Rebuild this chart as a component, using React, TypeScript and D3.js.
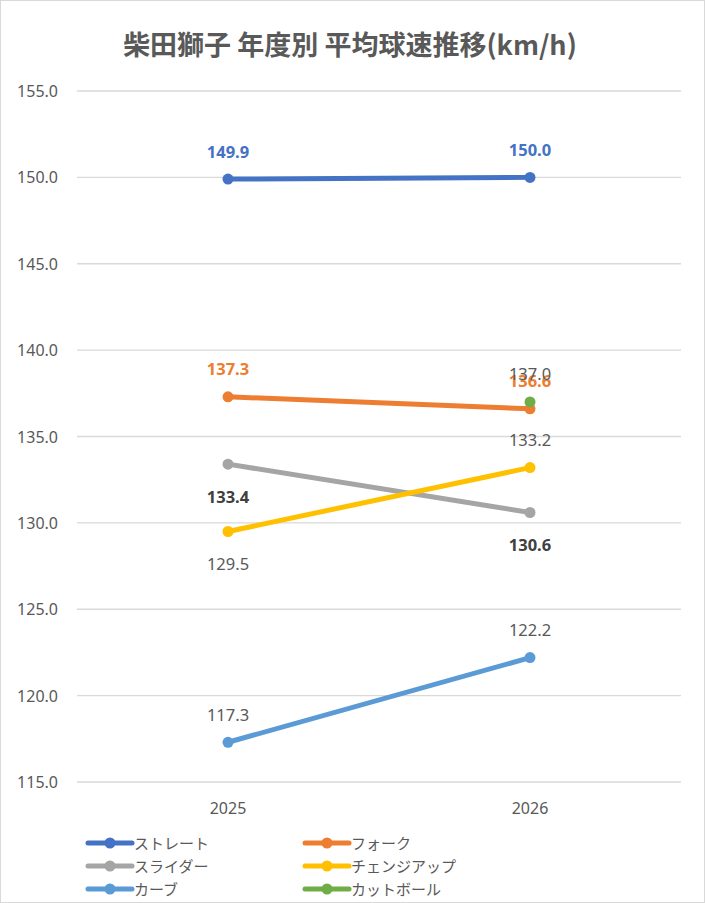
import React, { useRef, useEffect } from 'react';
import * as d3 from 'd3';

const years = ['2025', '2026'];
const pitchNames = ['ストレート', 'フォーク', 'スライダー', 'チェンジアップ', 'カーブ', 'カットボール'];
const straight = [149.9, 150.0];
const fork = [137.3, 136.6];
const slider = [133.4, 130.6];
const changeup = [129.5, 133.2];
const curve = [117.3, 122.2];
const cutter = [null, 137.0];
const yTicks = [115, 120, 125, 130, 135, 140, 145, 150, 155];

const colors = ['#4472C4', '#ED7D31', '#A5A5A5', '#FFC000', '#5B9BD5', '#70AD47'];
// label placement per series & point: 'above' | 'below', bold, color
const labelStyle = [
  { pos: ['above', 'above'], bold: true, color: '#4472C4' },
  { pos: ['above', 'above'], bold: true, color: '#ED7D31' },
  { pos: ['below', 'below'], bold: true, color: '#404040' },
  { pos: ['below', 'above'], bold: false, color: '#595959' },
  { pos: ['above', 'above'], bold: false, color: '#595959' },
  { pos: ['above', 'above'], bold: false, color: '#595959' },
];

const width = 705;
const height = 903;
const font = '"Noto Sans", "Noto Sans CJK JP", sans-serif';

export default function App() {
  const svgRef = useRef<SVGSVGElement>(null);

  useEffect(() => {
    if (!svgRef.current) return;
    const svg = d3.select(svgRef.current);
    svg.selectAll('*').remove();

    const series = [straight, fork, slider, changeup, curve, cutter];
    const plot = { left: 77, right: 681, top: 91, bottom: 782 };

    svg.append('rect')
      .attr('x', 0.5).attr('y', 0.5)
      .attr('width', width - 1).attr('height', height - 1)
      .attr('fill', '#fff').attr('stroke', '#d9d9d9');

    svg.append('text')
      .attr('x', 350).attr('y', 43)
      .attr('text-anchor', 'middle').attr('dominant-baseline', 'central')
      .style('font-family', '"Noto Sans CJK JP", sans-serif').style('font-size', '27px').style('font-weight', 700)
      .attr('fill', '#595959')
      .text('柴田獅子 年度別 平均球速推移(km/h)');

    const x = d3.scaleBand().domain(years).range([plot.left, plot.right]);
    const y = d3.scaleLinear().domain([115, 155]).range([plot.bottom, plot.top]);
    const cx = (i: number) => (x(years[i]) as number) + x.bandwidth() / 2;

    svg.append('g').selectAll('line').data(yTicks).enter().append('line')
      .attr('x1', plot.left).attr('x2', plot.right)
      .attr('y1', d => y(d)).attr('y2', d => y(d))
      .attr('stroke', '#d9d9d9').attr('stroke-width', 1.3);

    svg.append('g').selectAll('text').data(yTicks).enter().append('text')
      .attr('x', 58).attr('y', d => y(d))
      .attr('text-anchor', 'end').attr('dominant-baseline', 'central')
      .style('font-family', font).style('font-size', '16px')
      .attr('fill', '#595959')
      .text(d => d.toFixed(1));

    svg.append('g').selectAll('text').data(years).enter().append('text')
      .attr('x', (d, i) => cx(i)).attr('y', 808)
      .attr('text-anchor', 'middle').attr('dominant-baseline', 'central')
      .style('font-family', font).style('font-size', '16px')
      .attr('fill', '#595959')
      .text(d => d);

    const line = d3.line<number | null>()
      .defined(d => d != null)
      .x((d, i) => cx(i))
      .y(d => y(d as number));

    series.forEach((vals, si) => {
      const g = svg.append('g');
      g.append('path').datum(vals)
        .attr('d', line)
        .attr('fill', 'none').attr('stroke', colors[si])
        .attr('stroke-width', 5).attr('stroke-linecap', 'round');
      vals.forEach((v, i) => {
        if (v == null) return;
        g.append('circle').attr('cx', cx(i)).attr('cy', y(v)).attr('r', 5.5)
          .attr('fill', colors[si]);
      });
    });

    series.forEach((vals, si) => {
      const st = labelStyle[si];
      vals.forEach((v, i) => {
        if (v == null) return;
        const dy = st.pos[i] === 'above' ? -28 : 32;
        svg.append('text')
          .attr('x', cx(i)).attr('y', y(v) + dy)
          .attr('text-anchor', 'middle').attr('dominant-baseline', 'central')
          .style('font-family', font).style('font-size', '16.5px')
          .style('font-weight', st.bold ? 700 : 400)
          .attr('fill', st.color)
          .text(v.toFixed(1));
      });
    });

    const legend = svg.append('g');
    pitchNames.forEach((name, i) => {
      const col = i % 2;
      const row = Math.floor(i / 2);
      const lx = 88 + col * 217;
      const ly = 843 + row * 23;
      legend.append('line')
        .attr('x1', lx).attr('x2', lx + 44).attr('y1', ly).attr('y2', ly)
        .attr('stroke', colors[i]).attr('stroke-width', 5).attr('stroke-linecap', 'round');
      legend.append('circle').attr('cx', lx + 22).attr('cy', ly).attr('r', 5.5).attr('fill', colors[i]);
      legend.append('text')
        .attr('x', lx + 46).attr('y', ly)
        .attr('dominant-baseline', 'central')
        .style('font-family', font).style('font-size', '15px')
        .attr('fill', '#595959')
        .text(name);
    });
  }, []);

  return (
    <div style={{ position: 'absolute', left: 0, top: 0 }}>
      <svg ref={svgRef} width={width} height={height} style={{ display: 'block' }} />
    </div>
  );
}
